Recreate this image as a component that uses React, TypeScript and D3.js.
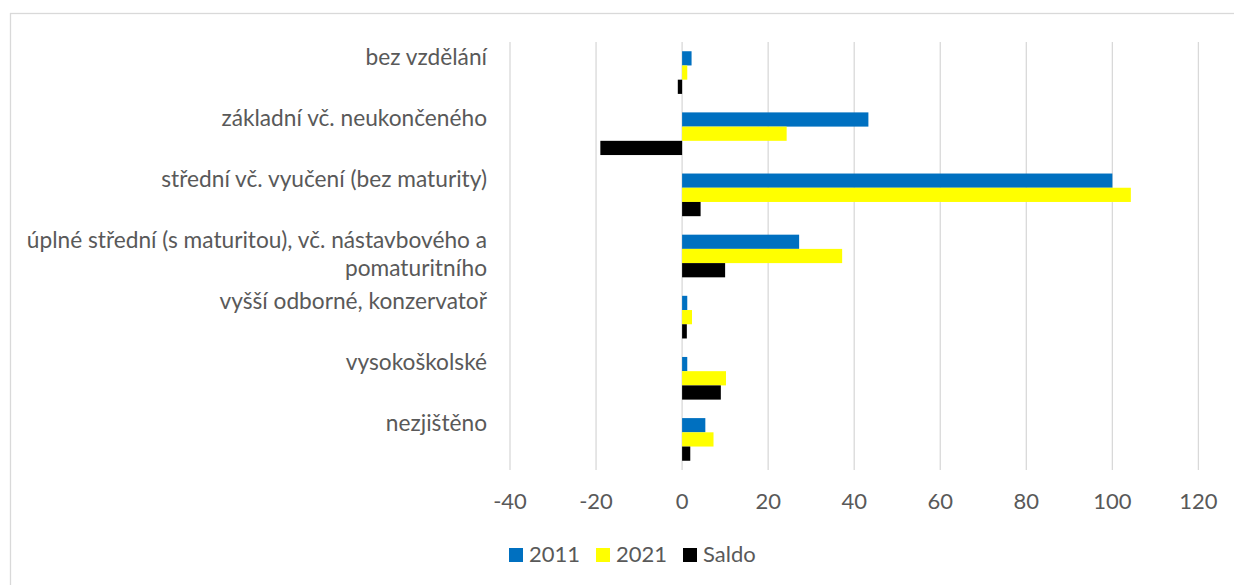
import { useEffect, useRef } from 'react'
import * as d3 from 'd3'

const categories = [
  ['bez vzdělání'],
  ['základní vč. neukončeného'],
  ['střední vč. vyučení (bez maturity)'],
  ['úplné střední (s maturitou), vč. nástavbového a', 'pomaturitního'],
  ['vyšší odborné, konzervatoř'],
  ['vysokoškolské'],
  ['nezjištěno'],
]
const values2011 = [2.2, 43.3, 100.0, 27.2, 1.2, 1.2, 5.4]
const values2021 = [1.2, 24.3, 104.3, 37.2, 2.3, 10.2, 7.3]
const valuesSaldo = [-1.0, -19.0, 4.3, 10.0, 1.1, 9.0, 1.9]
const seriesNames = ['2011', '2021', 'Saldo']
const seriesColors = ['#0070C0', '#FFFF00', '#000000']
const xTicks = [-40, -20, 0, 20, 40, 60, 80, 100, 120]

const FONT = 'Lato, "Open Sans", sans-serif'
const TEXT = '#595959'

export default function App() {
  const svgRef = useRef<SVGSVGElement>(null)

  useEffect(() => {
    if (!svgRef.current) return
    const width = 1234
    const height = 585
    const svg = d3.select(svgRef.current)
    svg.selectAll('*').remove()
    svg.attr('width', width).attr('height', height)

    svg.append('rect')
      .attr('x', 0).attr('y', 0).attr('width', width).attr('height', height)
      .attr('fill', '#ffffff')

    // chart border (runs off the picture right and bottom)
    svg.append('rect')
      .attr('x', 10.5).attr('y', 13.5).attr('width', width).attr('height', height)
      .attr('fill', 'none').attr('stroke', '#d9d9d9').attr('stroke-width', 1.3)

    const x = d3.scaleLinear().domain([-40, 120]).range([510, 1198.4])
    const keys = categories.map((c, i) => String(i))
    const y0 = d3.scaleBand().domain(keys).range([42, 470]).padding(0)
    const y1 = d3.scaleBand().domain(seriesNames).range([0, y0.bandwidth()])
      .paddingInner(0).paddingOuter(0.65)

    // gridlines
    svg.append('g').selectAll('line').data(xTicks).enter().append('line')
      .attr('x1', (d: number) => x(d)).attr('x2', (d: number) => x(d))
      .attr('y1', 42).attr('y2', 470)
      .attr('stroke', '#d9d9d9').attr('stroke-width', 1.3)

    const series = [values2011, values2021, valuesSaldo]
    series.forEach((vals, si) => {
      svg.append('g').selectAll('rect').data(vals).enter().append('rect')
        .attr('x', (d: number) => x(Math.min(0, d)))
        .attr('width', (d: number) => Math.abs(x(d) - x(0)))
        .attr('y', (_d: number, i: number) => (y0(String(i)) || 0) + (y1(seriesNames[si]) || 0))
        .attr('height', y1.bandwidth())
        .attr('fill', seriesColors[si])
    })

    // category labels
    const labels = svg.append('g')
      .attr('font-family', FONT).attr('font-size', 22.7).attr('fill', TEXT)
      .attr('text-anchor', 'end')
    categories.forEach((lines, i) => {
      const cy = (y0(String(i)) || 0) + y0.bandwidth() / 2
      const t = labels.append('text')
      lines.forEach((ln, li) => {
        t.append('tspan').attr('x', 487).attr('y', cy - 8 + li * 28).text(ln)
      })
    })

    // x axis tick labels
    svg.append('g').selectAll('text').data(xTicks).enter().append('text')
      .attr('x', (d: number) => x(d)).attr('y', 509)
      .attr('text-anchor', 'middle')
      .attr('font-family', FONT).attr('font-size', 22).attr('fill', TEXT)
      .text((d: number) => String(d))

    // legend
    const legend = svg.append('g')
    seriesNames.forEach((name, i) => {
      const lx = 509 + i * 87
      legend.append('rect')
        .attr('x', lx).attr('y', 548).attr('width', 14).attr('height', 14)
        .attr('fill', seriesColors[i])
      legend.append('text')
        .attr('x', lx + 20).attr('y', 562)
        .attr('font-family', FONT).attr('font-size', 22).attr('fill', TEXT)
        .text(name)
    })
  }, [])

  return (
    <div style={{ position: 'absolute', left: 0, top: 0 }}>
      <svg ref={svgRef} />
    </div>
  )
}
